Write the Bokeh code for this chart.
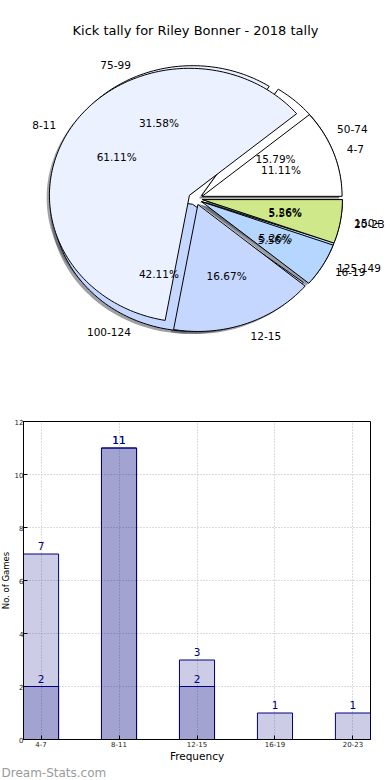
import numpy as np
from bokeh.plotting import figure
from bokeh.models import Range1d, Label, LabelSet, FixedTicker, ColumnDataSource
from bokeh.layouts import column, row
from bokeh.embed import file_html
from bokeh.resources import INLINE
from bokeh.core.properties import value

# ---------------- data ----------------
title_text = "Kick tally for Riley Bonner - 2018 tally"
dist_labels = ["50-74", "75-99", "100-124", "125-149", "150+"]
dist_values = [3, 6, 8, 1, 1]
freq_labels = ["4-7", "8-11", "12-15", "16-19", "20-23"]
freq_values = [2, 11, 3, 1, 1]
slice_colors = ["#ffffff", "#ebf1ff", "#c5d7ff", "#b5d6ff", "#cfe98a"]

bar_categories = ["4-7", "8-11", "12-15", "16-19", "20-23"]
series_a = [2, 11, 3, 1, 1]
series_b = [7, 11, 2, 0, 0]
y_ticks = [0, 2, 4, 6, 8, 10, 12]
x_label = "Frequency"
y_label = "No. of Games"
watermark = "Dream-Stats.com"

FONT = value("DejaVu Sans")

# ---------------- layout constants (page pixels) ----------------
W = 390
H1, H2, H3 = 400, 364, 16
YLAB_W = 11                     # narrow strip holding the y-axis title
FL, FR = 19, 370                # bar-chart frame left / right on the page
PCX, PCY = 195.0, 198.0         # pie centre on page
RX, RY = 140.0, 127.0           # pie radii in px (elliptical like the original)
EXPLODE = 0.05
LABEL_D = 1.1
PCT_D = 0.6

# ---------------- pie figure ----------------
p1 = figure(width=W, height=H1, output_backend="svg", toolbar_location=None,
            x_range=Range1d(-PCX / RX, (W - PCX) / RX),
            y_range=Range1d((PCY - H1) / RY, PCY / RY),
            x_axis_type=None, y_axis_type=None, min_border=0)
p1.frame_align = False
p1.outline_line_color = None
p1.grid.visible = False


def darken(hexcol, f=0.3):
    h = hexcol.lstrip("#")
    r, g, b = (int(h[i:i + 2], 16) for i in (0, 2, 4))
    return "#%02x%02x%02x" % (int(r * f), int(g * f), int(b * f))


def pie_parts(values, labels):
    vals = np.array(values, dtype=float)
    fr = vals / vals.sum()
    edges = np.concatenate([[0.0], np.cumsum(fr)]) * 2 * np.pi
    xs, ys, sxs, sys_ = [], [], [], []
    txt = {"lx": [], "ly": [], "lt": [], "la": [], "px": [], "py": [], "pt": []}
    for i in range(len(vals)):
        t1, t2 = edges[i], edges[i + 1]
        tm = 0.5 * (t1 + t2)
        ox, oy = EXPLODE * np.cos(tm), EXPLODE * np.sin(tm)
        n = max(int((t2 - t1) / (2 * np.pi) * 240) + 2, 3)
        ts = np.linspace(t1, t2, n)
        px = [ox] + list(ox + np.cos(ts))
        py = [oy] + list(oy + np.sin(ts))
        xs.append(px)
        ys.append(py)
        sxs.append([v - 0.02 for v in px])
        sys_.append([v - 0.02 for v in py])
        txt["lx"].append(ox + LABEL_D * np.cos(tm))
        txt["ly"].append(oy + LABEL_D * np.sin(tm))
        txt["lt"].append(labels[i])
        txt["la"].append("left" if np.cos(tm) > 0 else "right")
        txt["px"].append(ox + PCT_D * np.cos(tm))
        txt["py"].append(oy + PCT_D * np.sin(tm))
        txt["pt"].append("%.2f%%" % (fr[i] * 100))
    return xs, ys, sxs, sys_, txt


pies = [pie_parts(dist_values, dist_labels), pie_parts(freq_values, freq_labels)]
shadow_cols = [darken(c) for c in slice_colors]

for xs, ys, sxs, sys_, txt in pies:
    p1.patches(sxs, sys_, fill_color=shadow_cols, fill_alpha=0.5, line_color=None)
for xs, ys, sxs, sys_, txt in pies:
    p1.patches(xs, ys, fill_color=slice_colors, line_color="black", line_width=1)

for xs, ys, sxs, sys_, txt in pies:
    for al in ("left", "right"):
        idx = [k for k, a in enumerate(txt["la"]) if a == al]
        src = ColumnDataSource(dict(x=[txt["lx"][k] for k in idx],
                                    y=[txt["ly"][k] for k in idx],
                                    t=[txt["lt"][k] for k in idx]))
        p1.add_layout(LabelSet(x="x", y="y", text="t", source=src, text_align=al,
                               text_baseline="middle", text_font=FONT,
                               text_font_size="10.5px", text_color="black"))
    src = ColumnDataSource(dict(x=txt["px"], y=txt["py"], t=txt["pt"]))
    p1.add_layout(LabelSet(x="x", y="y", text="t", source=src, text_align="center",
                           text_baseline="middle", text_font=FONT,
                           text_font_size="10.5px", text_color="black"))

p1.add_layout(Label(x=0, y=(PCY - 30) / RY, text=title_text, text_align="center",
                    text_baseline="middle", text_font="DejaVu Sans",
                    text_font_size="13px", text_color="black"))

# ---------------- y-axis title strip ----------------
py_ = figure(width=YLAB_W, height=H2, output_backend="svg", toolbar_location=None,
             x_range=Range1d(0, YLAB_W), y_range=Range1d(0, H2),
             x_axis_type=None, y_axis_type=None, min_border=0)
py_.frame_align = False
py_.outline_line_color = None
py_.grid.visible = False
py_.add_layout(Label(x=YLAB_W / 2, y=H2 - 180, text=y_label, angle=np.pi / 2,
                     text_align="center", text_baseline="middle",
                     text_font="DejaVu Sans", text_font_size="8.5px",
                     text_color="black"))

# ---------------- bar figure ----------------
bx = list(range(len(bar_categories)))
p2 = figure(width=W - YLAB_W, height=H2, output_backend="svg", toolbar_location=None,
            x_range=Range1d(-0.225, len(bar_categories) - 1 + 0.225),
            y_range=Range1d(0, 12),
            min_border_left=FL - YLAB_W, min_border_right=W - FR, min_border_top=21,
            min_border_bottom=24)
p2.frame_align = False
p2.outline_line_color = "black"
p2.outline_line_width = 1

for series in (series_b, series_a):
    xs_ = [x for x, v in zip(bx, series) if v > 0]
    vs_ = [v for v in series if v > 0]
    p2.vbar(x=xs_, top=vs_, width=0.45, fill_color="navy", fill_alpha=0.2,
            line_color="navy", line_width=1)
for series in (series_b, series_a):
    xs_ = [x for x, v in zip(bx, series) if v > 0]
    vs_ = [v for v in series if v > 0]
    p2.text(x=xs_, y=[v + 0.30 for v in vs_], text=[str(v) for v in vs_],
            text_align="center", text_baseline="middle", text_font=FONT,
            text_font_size="10.5px", text_color="#000080")

p2.xaxis.ticker = FixedTicker(ticks=bx)
p2.xaxis.major_label_overrides = {i: c for i, c in enumerate(bar_categories)}
p2.yaxis.ticker = FixedTicker(ticks=y_ticks)
for ax in (p2.xaxis, p2.yaxis):
    ax.major_tick_in = 4
    ax.major_tick_out = 0
    ax.minor_tick_line_color = None
    ax.axis_line_color = "black"
    ax.major_tick_line_color = "black"
    ax.major_label_text_font = "DejaVu Sans"
    ax.major_label_text_font_size = "7px"
    ax.major_label_text_color = "#222222"
p2.yaxis.major_label_standoff = 0
p2.xaxis.major_label_standoff = 1
p2.xaxis.axis_label = x_label
p2.xaxis.axis_label_standoff = 0
p2.xaxis.axis_label_text_font = "DejaVu Sans"
p2.xaxis.axis_label_text_font_size = "10.5px"
p2.xaxis.axis_label_text_font_style = "normal"
p2.xaxis.axis_label_text_color = "black"

p2.grid.grid_line_color = "#b8b8b8"
p2.grid.grid_line_dash = "1 2"
p2.grid.grid_line_width = 1

# ---------------- watermark strip ----------------
p3 = figure(width=W, height=H3, output_backend="svg", toolbar_location=None,
            x_range=Range1d(0, W), y_range=Range1d(0, H3),
            x_axis_type=None, y_axis_type=None, min_border=0)
p3.frame_align = False
p3.outline_line_color = None
p3.grid.visible = False
p3.add_layout(Label(x=1, y=H3 / 2, text=watermark, text_align="left",
                    text_baseline="middle", text_font="DejaVu Sans",
                    text_font_size="12px", text_color="#9a9a9a"))

layout = column(p1, row(py_, p2, spacing=0), p3, spacing=0)
open("out.html", "w").write(file_html(layout, INLINE))
